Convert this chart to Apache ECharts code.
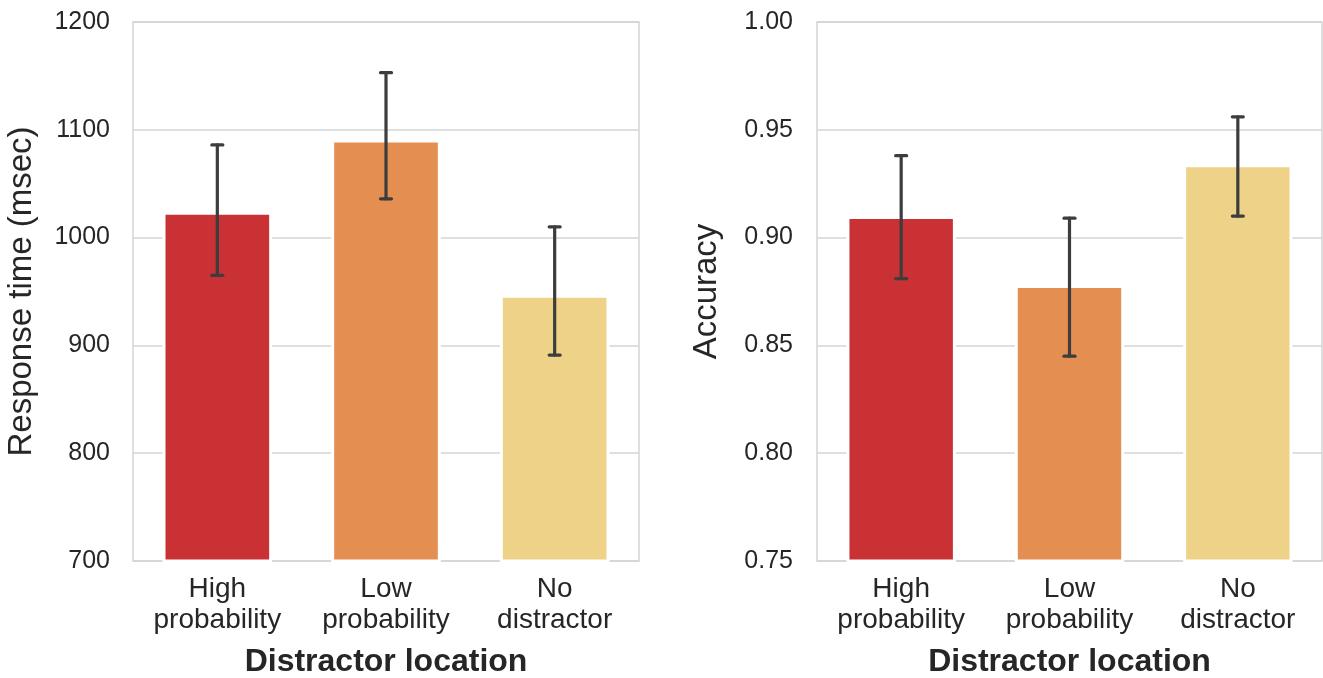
<!DOCTYPE html>
<html>
<head>
<meta charset="utf-8">
<script src="https://cdn.jsdelivr.net/npm/echarts@6/dist/echarts.min.js"></script>
<style>
html,body{margin:0;padding:0;background:#fff;}
#chart{width:1323px;height:678px;}
</style>
</head>
<body>
<div id="chart"></div>
<script>
const categories = ['High\nprobability', 'Low\nprobability', 'No\ndistractor'];
const barColors = ['#c93134', '#e48f51', '#edd287'];

const rtMean = [1024, 1091, 947];
const rtLow = [965, 1036, 891];
const rtHigh = [1086, 1153, 1010];

const accMean = [0.910, 0.878, 0.934];
const accLow = [0.881, 0.845, 0.910];
const accHigh = [0.938, 0.909, 0.956];

const FONT = '"Liberation Sans", Arial, Helvetica, sans-serif';
const TXT = '#262626';

function errorSeries(idx, lows, highs) {
  return {
    type: 'custom',
    xAxisIndex: idx, yAxisIndex: idx,
    z: 10,
    data: lows.map((l, i) => [i, l, highs[i]]),
    encode: {x: 0, y: [1, 2]},
    renderItem: function (params, api) {
      const lo = api.coord([api.value(0), api.value(1)]);
      const hi = api.coord([api.value(0), api.value(2)]);
      const hw = 5.5;
      const st = {stroke: '#3d3d3d', lineWidth: 3.2, lineCap: 'round'};
      return {
        type: 'group',
        children: [
          {type: 'line', shape: {x1: lo[0], y1: lo[1], x2: hi[0], y2: hi[1]}, style: st},
          {type: 'line', shape: {x1: hi[0] - hw, y1: hi[1], x2: hi[0] + hw, y2: hi[1]}, style: st},
          {type: 'line', shape: {x1: lo[0] - hw, y1: lo[1], x2: lo[0] + hw, y2: lo[1]}, style: st}
        ]
      };
    }
  };
}

function barSeries(idx, vals) {
  return {
    type: 'bar',
    xAxisIndex: idx, yAxisIndex: idx,
    barWidth: '65%',
    data: vals.map((v, i) => ({value: v, itemStyle: {color: barColors[i]}})),
    itemStyle: {borderColor: '#ffffff', borderWidth: 3}
  };
}

function xAxis(idx) {
  return {
    type: 'category', gridIndex: idx, data: categories,
    axisLine: {show: false}, axisTick: {show: false},
    axisLabel: {fontFamily: FONT, fontSize: 28, color: TXT, lineHeight: 31, margin: 13},
    name: 'Distractor location', nameLocation: 'middle', nameGap: 85,
    nameTextStyle: {fontFamily: FONT, fontSize: 32, fontWeight: 'bold', color: TXT}
  };
}

const chart = echarts.init(document.getElementById('chart'), null, {renderer: 'canvas'});
chart.setOption({
  animation: false,
  backgroundColor: '#ffffff',
  grid: [
    {left: 133, top: 22, width: 506, bottom: 117, outerBoundsMode: 'none', containLabel: false, show: true, borderColor: '#d4d4d4', borderWidth: 1.5, backgroundColor: 'transparent'},
    {left: 817, top: 22, width: 505, bottom: 117, outerBoundsMode: 'none', containLabel: false, show: true, borderColor: '#d4d4d4', borderWidth: 1.5, backgroundColor: 'transparent'}
  ],
  xAxis: [xAxis(0), xAxis(1)],
  yAxis: [
    {
      type: 'value', gridIndex: 0, min: 700, max: 1200, interval: 100,
      axisLine: {show: false}, axisTick: {show: false},
      splitLine: {lineStyle: {color: '#d4d4d4', width: 1.5}},
      axisLabel: {fontFamily: FONT, fontSize: 25, color: TXT, margin: 23, formatter: v => String(v)},
      name: 'Response time (msec)', nameLocation: 'middle', nameGap: 95,
      nameTextStyle: {fontFamily: FONT, fontSize: 33, color: TXT}
    },
    {
      type: 'value', gridIndex: 1, min: 0.75, max: 1.00, interval: 0.05,
      axisLine: {show: false}, axisTick: {show: false},
      splitLine: {lineStyle: {color: '#d4d4d4', width: 1.5}},
      axisLabel: {fontFamily: FONT, fontSize: 25, color: TXT, margin: 24, formatter: v => v.toFixed(2)},
      name: 'Accuracy', nameLocation: 'middle', nameGap: 94,
      nameTextStyle: {fontFamily: FONT, fontSize: 33, color: TXT}
    }
  ],
  series: [
    barSeries(0, rtMean),
    errorSeries(0, rtLow, rtHigh),
    barSeries(1, accMean),
    errorSeries(1, accLow, accHigh)
  ]
});
</script>
</body>
</html>
